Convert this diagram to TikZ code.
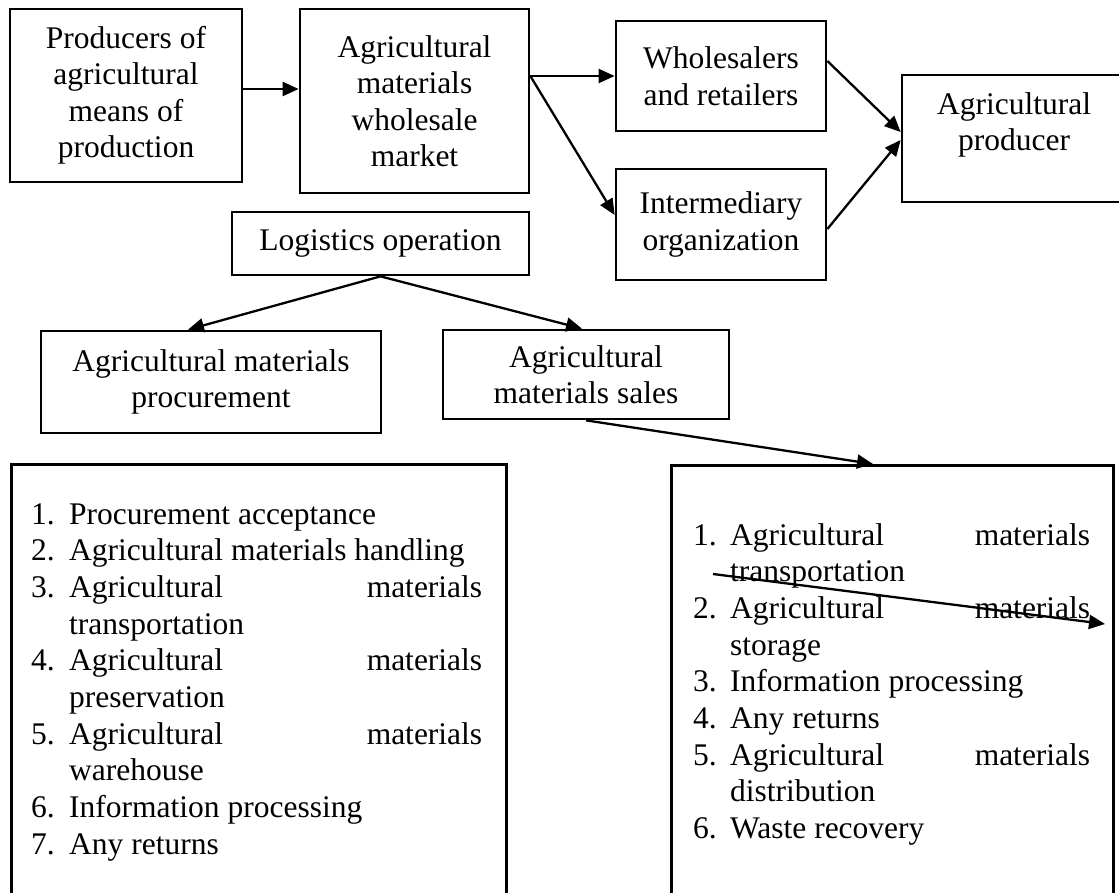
\documentclass[tikz,border=0pt]{standalone}
\usepackage{fontspec}
\setmainfont{Liberation Serif}
\usetikzlibrary{arrows.meta}

% numbered list lines: fixed-width number column, rest of the line as given
\newlength\numw
\newcommand\entry[2]{\hbox to \hsize{\hbox to \numw{#1\hfil}#2}}
\newcommand\bodyfont{\fontsize{31.5}{36.5}\selectfont}

\begin{document}
\begin{tikzpicture}[x=1pt, y=-1pt,
  box/.style={draw, line width=2.7pt, inner sep=0pt, align=center, font=\bodyfont},
  lbl/.style={inner sep=0pt, align=center, font=\bodyfont},
  arr/.style={line width=2.3pt, -{Triangle[length=16pt, width=14pt]}}]

\useasboundingbox (0,0) rectangle (1119,892);
\fill[white] (0,0) rectangle (1119,892);
\clip (0,0) rectangle (1119,892);

% supply chain
\node[box, minimum width=232, minimum height=173] (b1) at (126,95.5)
  {Producers of\\agricultural\\means of\\production};
\node[box, minimum width=229, minimum height=184] (b2) at (414.5,101)
  {Agricultural\\materials\\wholesale\\market};
\node[box, minimum width=210, minimum height=110] (whole) at (721,76)
  {Wholesalers\\and retailers};
\node[box, minimum width=210, minimum height=111] (inter) at (721,224.5)
  {Intermediary\\organization};
\node[box, minimum width=224, minimum height=127] (prod) at (1014,138.5) {};
\node[lbl] (prodtxt) at (1014,125) {Agricultural\\producer};

% logistics operation
\node[box, minimum width=297, minimum height=63] (logi) at (380.5,243.5)
  {Logistics operation};
\node[box, minimum width=340, minimum height=102] (proc) at (211,382)
  {Agricultural materials\\procurement};
\node[box, minimum width=286, minimum height=89] (sales) at (586,374.5)
  {Agricultural\\materials sales};

% activity lists
\node[box, anchor=north west, minimum width=495, minimum height=460] (lbox) at (10,463) {};
\node[box, anchor=north west, minimum width=442, minimum height=460] (rbox) at (670,464) {};

\node[anchor=base west, inner sep=0pt, font=\bodyfont] (ltext) at (31,524) {%
  \vtop{\hsize=451pt \numw=38pt \baselineskip=36.7pt
    \entry{1.}{Procurement acceptance\hfil}
    \entry{2.}{Agricultural materials handling\hfil}
    \entry{3.}{Agricultural\hfill materials}
    \entry{}{transportation\hfil}
    \entry{4.}{Agricultural\hfill materials}
    \entry{}{preservation\hfil}
    \entry{5.}{Agricultural\hfill materials}
    \entry{}{warehouse\hfil}
    \entry{6.}{Information processing\hfil}
    \entry{7.}{Any returns\hfil}}};

\node[anchor=base west, inner sep=0pt, font=\bodyfont] (rtext) at (693,545) {%
  \vtop{\hsize=397pt \numw=37pt \baselineskip=36.7pt
    \entry{1.}{Agricultural\hfill materials}
    \entry{}{transportation\hfil}
    \entry{2.}{Agricultural\hfill materials}
    \entry{}{storage\hfil}
    \entry{3.}{Information processing\hfil}
    \entry{4.}{Any returns\hfil}
    \entry{5.}{Agricultural\hfill materials}
    \entry{}{distribution\hfil}
    \entry{6.}{Waste recovery\hfil}}};

% connectors
\draw[arr] ([yshift=6.5pt]b1.east) -- ([yshift=12pt]b2.west);
\draw[arr] ([yshift=25pt]b2.east) -- (whole.west);
\draw[arr] ([yshift=25pt]b2.east) -- ([yshift=9.5pt]inter.west);
\draw[arr] ([yshift=15pt]whole.east) -- ([yshift=6.5pt]prod.west);
\draw[arr] ([yshift=-4.5pt]inter.east) -- ([yshift=-1.5pt]prod.west);
\draw[arr] (logi.south) -- ([xshift=-23pt]proc.north);
\draw[arr] (logi.south) -- ([xshift=-4pt]sales.north);
\draw[arr] (sales.south) -- ([xshift=203pt]rbox.north west);

\coordinate (ia) at (713,574);
\coordinate (ib) at (1105,624);
\draw[arr] (ia) -- (ib);
\end{tikzpicture}
\end{document}
